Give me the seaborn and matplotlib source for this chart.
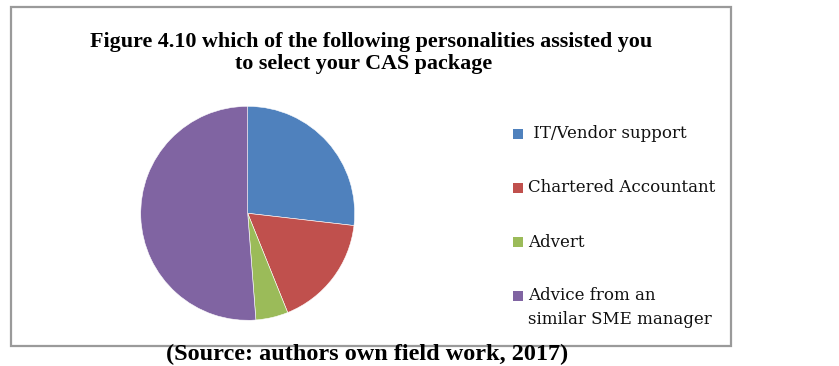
import matplotlib
matplotlib.use("Agg")
import matplotlib.pyplot as plt
import seaborn as sns
from matplotlib.patches import Rectangle

# ---- data ----
categories = [" IT/Vendor support", "Chartered Accountant", "Advert",
              "Advice from an\nsimilar SME manager"]
values = [22, 14, 4, 42]
colors = ["#4F81BD", "#C0504D", "#9BBB59", "#8064A2"]
title_lines = ["Figure 4.10 which of the following personalities assisted you",
               "to select your CAS package"]
source_text = "(Source: authors own field work, 2017)"

sns.set_theme(style="white")
palette = sns.color_palette(colors)

W, H = 839, 366
DPI = 100
fig = plt.figure(figsize=(W / DPI, H / DPI), dpi=DPI)
fig.patch.set_facecolor("white")


def fx(x):
    return x / W


def fy(y):
    return 1 - y / H


renderer = fig.canvas.get_renderer()


def fit_text(x, y, s, target_w, family, weight="normal", ha="center", va="center"):
    t = fig.text(fx(x), fy(y), s, ha=ha, va=va, family=family, weight=weight,
                 fontsize=12, color="black")
    w = t.get_window_extent(renderer).width
    t.set_fontsize(12 * target_w / w)
    return t


# chart frame
fig.patches.append(Rectangle((fx(11), fy(346)), fx(731) - fx(11), fy(7) - fy(346),
                             transform=fig.transFigure, fill=False,
                             edgecolor="#9A9A9A", linewidth=1.6))

# title
t1 = fit_text(371, 42.5, title_lines[0], 558, ["Liberation Serif"], weight="bold")
fs = t1.get_fontsize()
fig.text(fx(364), fy(64), title_lines[1], ha="center", va="center",
         family=["Liberation Serif"], weight="bold", fontsize=fs, color="black")

# pie
cx, cy, r = 247.7, 213.3, 107
ax = fig.add_axes([fx(cx - r), fy(cy + r), (2 * r) / W, (2 * r) / H])
ax.pie(values, colors=palette, startangle=90, counterclock=False, radius=1,
       wedgeprops=dict(edgecolor="white", linewidth=0.4))
ax.set_xlim(-1, 1)
ax.set_ylim(-1, 1)
ax.set_aspect("auto")
ax.axis("off")

# legend
row_y = [133.7, 187.7, 242.3, 296]
lfs = None
for i, (lab, col) in enumerate(zip(categories, palette)):
    yy = row_y[i]
    fig.patches.append(Rectangle((fx(513), fy(yy + 5)), 10 / W, 10 / H,
                                 transform=fig.transFigure, facecolor=col,
                                 edgecolor="none"))
    if lfs is None:
        probe = fit_text(527.7, yy, "Chartered Accountant", 187, ["DejaVu Serif"],
                         ha="left")
        lfs = probe.get_fontsize()
        probe.remove()
    lines = lab.split("\n")
    for j, ln in enumerate(lines):
        fig.text(fx(527.7), fy(yy + j * 23), ln, ha="left", va="center",
                 family=["DejaVu Serif"], fontsize=lfs, color="#111111")

# source (kept fully inside the figure)
fit_text(367, 365.5, source_text, 400, ["Liberation Serif"], weight="bold",
         va="bottom")

fig.savefig("out.png", dpi=DPI, facecolor="white")
